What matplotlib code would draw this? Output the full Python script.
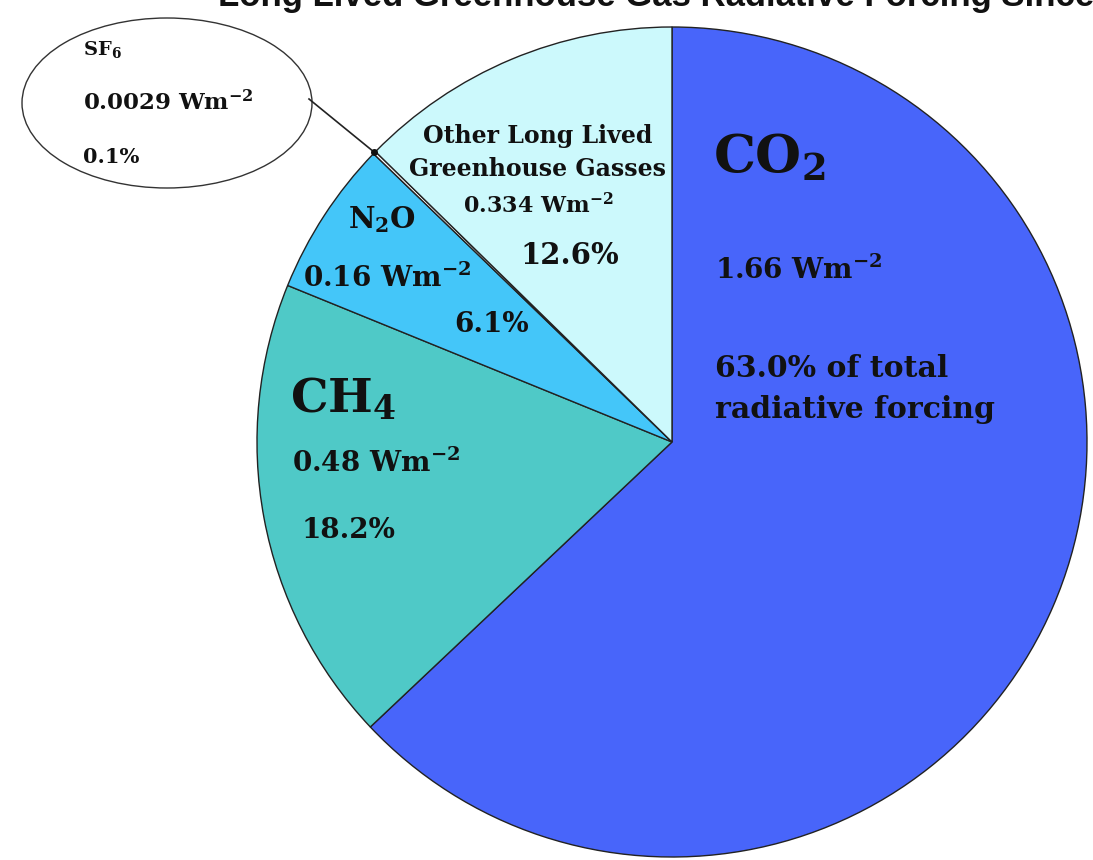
"""
Pie chart of long lived greenhouse gas radiative forcing, with an
ellipse callout for the very small SF6 share.
"""
import matplotlib.pyplot as plt
from matplotlib.patches import Ellipse

plt.rcParams["mathtext.fontset"] = "custom"
plt.rcParams["mathtext.rm"] = "DejaVu Serif:bold"
plt.rcParams["mathtext.bf"] = "DejaVu Serif:bold"
plt.rcParams["mathtext.it"] = "DejaVu Serif:bold"

gases = ["CO2", "CH4", "N2O", "SF6", "Other"]
forcing = [1.66, 0.48, 0.16, 0.0029, 0.334]   # W m-2
percent = [63.0, 18.2, 6.1, 0.1, 12.6]
colors = ["#4865fa", "#4fc9c7", "#44c6f9", "#ffffff", "#ccf9fc"]

W, H = 1093, 860
R = 415.0
CX, CY = 672, 442


def px(x, y):
    # pixel position on the canvas -> data units of the unit pie
    return (x - CX) / R, (CY - y) / R


fig = plt.figure(figsize=(W / 100, H / 100), dpi=100)
ax = fig.add_axes([0, 0, 1, 1])

ax.pie(forcing, colors=colors, startangle=90, counterclock=False,
       radius=1.0, wedgeprops=dict(edgecolor="#222222", linewidth=1.0))

# pie() resets the limits, so set them afterwards
ax.set_aspect("auto")
ax.set_xlim(-CX / R, (W - CX) / R)
ax.set_ylim(-(H - CY) / R, CY / R)
ax.axis("off")

serif = "DejaVu Serif"


def label(x, y, s, size, ha="left"):
    return ax.text(*px(x, y), s, fontsize=size, fontweight="bold",
                   family=serif, ha=ha, va="center", color="#111111",
                   zorder=6)


# CO2
label(713, 158, r"CO$_2$", 38)
label(715, 270, f"{forcing[0]:.2f} Wm$^{{-2}}$", 20)
label(715, 369, f"{percent[0]:.1f}% of total", 21.5)
label(715, 410, "radiative forcing", 21.5)

# CH4
label(290, 400, r"CH$_4$", 34)
label(292, 463, f"{forcing[1]:.2f} Wm$^{{-2}}$", 20)
label(302, 530, f"{percent[1]:.1f}%", 20)

# N2O
label(382, 220, r"N$_2$O", 21, ha="center")
label(303, 278, f"{forcing[2]:.2f} Wm$^{{-2}}$", 20)
label(492, 325, f"{percent[2]:.1f}%", 20, ha="center")

# other long lived gases
label(538, 136, "Other Long Lived", 17, ha="center")
label(538, 169, "Greenhouse Gasses", 17, ha="center")
label(538, 206, f"{forcing[4]:.3f} Wm$^{{-2}}$", 16, ha="center")
label(570, 256, f"{percent[4]:.1f}%", 21, ha="center")

# SF6 callout
ax.add_patch(Ellipse(px(167, 103), 290 / R, 170 / R, facecolor="white",
                     edgecolor="#333333", linewidth=1.0, zorder=3))
ax.plot(*zip(px(309, 99), px(374, 152)), color="#222222", lw=1.2, zorder=4)
ax.plot(*px(374, 152), "o", color="#111111", ms=4, zorder=5)
label(83, 50, r"SF$_6$", 14)
label(83, 103, f"{forcing[3]:.4f} Wm$^{{-2}}$", 16.5)
label(83, 157, f"{percent[3]:.1f}%", 15)

# title, mostly above the top edge
ax.text(*px(656, 6), "Long Lived Greenhouse Gas Radiative Forcing Since",
        fontsize=25, fontweight="bold", family="Liberation Sans",
        ha="center", va="baseline", color="#111111")

fig.savefig("out.png", dpi=100)
